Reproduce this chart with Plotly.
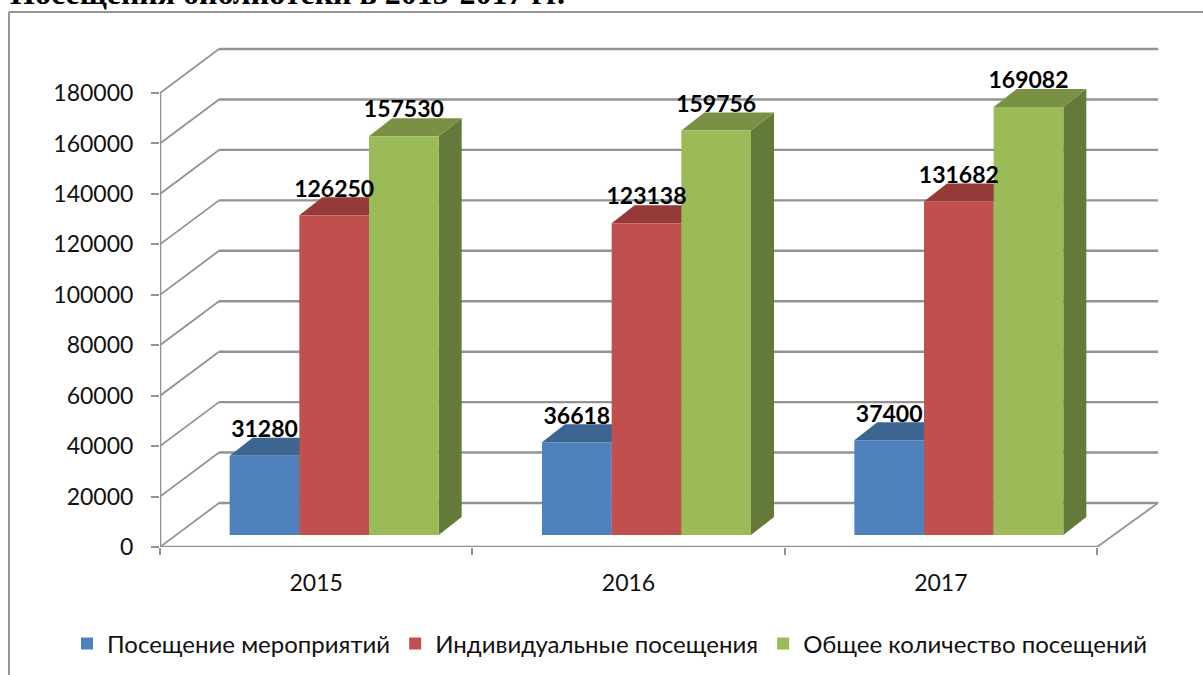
import plotly.graph_objects as go

years = [2015, 2016, 2017]
events = [31280, 36618, 37400]
individual = [126250, 123138, 131682]
total = [157530, 159756, 169082]
series_names = ["Посещение мероприятий", "Индивидуальные посещения", "Общее количество посещений"]
front_colors = ["#4F81BD", "#C0504D", "#9BBB59"]
top_colors = ["#3D6591", "#943A38", "#7A9145"]
side_colors = ["#34567C", "#7E3230", "#647A38"]
y_ticks = [0, 20000, 40000, 60000, 80000, 100000, 120000, 140000, 160000, 180000]
title_text = "Посещения библиотеки в 2015-2017 гг."
series = [events, individual, total]

# pixel geometry of the pseudo-3D box
L, R, T, B = 160, 1158, 45, 547
PX_PER_CAT = 312.33
PX_PER_VAL = 2.522 / 1000      # axis / wall scale
BAR_PX_PER_VAL = 2.532 / 1000  # scale of the columns
BAR_SHIFT_X, BAR_FLOOR_UP = 18, 12
WALL_DX, WALL_DY = 59 / PX_PER_CAT, 44 / PX_PER_VAL
BAR_W = 69.67 / PX_PER_CAT
BAR_DX, BAR_DY = 23 / PX_PER_CAT, 18 / BAR_PX_PER_VAL
GRID = "#939393"
FONT = "Lato"
TEXT = "#111111"

x0 = years[0] - 0.5
x_end = x0 + (R - L) / PX_PER_CAT
x_last = years[-1] + 0.5
y_top = (B - T) / PX_PER_VAL
bar_xrange = [x0 - BAR_SHIFT_X / PX_PER_CAT, x_end - BAR_SHIFT_X / PX_PER_CAT]
bar_yrange = [-BAR_FLOOR_UP / BAR_PX_PER_VAL, (B - BAR_FLOOR_UP - T) / BAR_PX_PER_VAL]

fig = go.Figure()

def line(xs, ys, width=2):
    fig.add_trace(go.Scatter(x=xs, y=ys, mode="lines", line=dict(color=GRID, width=width),
                             showlegend=False, hoverinfo="skip", cliponaxis=False))

# walls: gridlines on the back wall and their diagonals on the side wall
for v in y_ticks:
    line([x0, x0 + WALL_DX], [v, v + WALL_DY], 1.8)
    line([x0 + WALL_DX, x_end], [v + WALL_DY, v + WALL_DY], 2.4)
# floor and front axis lines
line([x0, x_last], [0, 0], 2.6)
line([x_last, x_end], [0, WALL_DY], 1.8)
line([x0, x0], [0, y_ticks[-1]], 2.6)

# column sides and tops, computed from the values (below the fronts)
for k, vals in enumerate(series):
    off = (k - 1) * BAR_W
    for yr, v in zip(years, vals):
        xl, xr = yr + off - BAR_W / 2, yr + off + BAR_W / 2
        fig.add_trace(go.Scatter(
            x=[xr, xr + BAR_DX, xr + BAR_DX, xr, xr], y=[0, BAR_DY, v + BAR_DY, v, 0],
            fill="toself", fillcolor=side_colors[k], mode="none",
            xaxis="x2", yaxis="y2", showlegend=False, hoverinfo="skip"))
        fig.add_trace(go.Scatter(
            x=[xl, xl + BAR_DX, xr + BAR_DX, xr, xl], y=[v, v + BAR_DY, v + BAR_DY, v, v],
            fill="toself", fillcolor=top_colors[k], mode="none",
            xaxis="x2", yaxis="y2", showlegend=False, hoverinfo="skip"))

# column fronts
for k, vals in enumerate(series):
    fig.add_trace(go.Bar(x=years, y=vals, name=series_names[k], marker=dict(color=front_colors[k], line=dict(width=0)),
                         xaxis="x3", yaxis="y3"))

# data labels
for k, vals in enumerate(series):
    off = (k - 1) * BAR_W
    fig.add_trace(go.Scatter(
        x=[yr + off for yr in years], y=[v + 24.5 / BAR_PX_PER_VAL for v in vals],
        text=[str(v) for v in vals], mode="text", textposition="middle center",
        textfont=dict(family=FONT, size=23, color="#000000", weight="bold"),
        xaxis="x3", yaxis="y3", showlegend=False, hoverinfo="skip", cliponaxis=False))

def px(x):
    return (x - L) / (R - L)

def py(y):
    return (B - y) / (B - T)

border = dict(color="#959595", width=2)
shapes = [
    dict(type="line", xref="paper", yref="paper", x0=px(9), x1=px(9), y0=py(12), y1=py(680), line=border),
    dict(type="line", xref="paper", yref="paper", x0=px(9), x1=px(1210), y0=py(12), y1=py(12), line=border),
]

hidden = dict(visible=False, fixedrange=True)
fig.update_layout(
    width=1203, height=675,
    margin=dict(l=L, r=1203 - R, t=T, b=675 - B, pad=0, autoexpand=False),
    paper_bgcolor="white", plot_bgcolor="rgba(0,0,0,0)",
    font=dict(family=FONT, size=23, color=TEXT),
    barmode="group", bargap=1 - 3 * BAR_W, bargroupgap=0,
    xaxis=dict(range=[x0, x_end], tickmode="array", tickvals=years, ticktext=[str(y) for y in years],
               ticks="", ticklen=0, showgrid=False, zeroline=False, showline=False, automargin=False,
               ticklabelstandoff=20,
               minor=dict(tickmode="array", tickvals=[x0 + i for i in range(len(years) + 1)],
                          ticks="outside", ticklen=7, tickwidth=2, tickcolor=GRID, showgrid=False)),
    yaxis=dict(range=[0, y_top], tickmode="array", tickvals=y_ticks, ticktext=[str(v) for v in y_ticks],
               ticks="outside", ticklen=8, tickwidth=2, automargin=False,
               tickcolor=GRID, showgrid=False, zeroline=False, showline=False, ticklabelstandoff=13),
    xaxis2=dict(range=bar_xrange, overlaying="x", anchor="y2", **hidden),
    yaxis2=dict(range=bar_yrange, overlaying="y", anchor="x2", **hidden),
    xaxis3=dict(range=bar_xrange, overlaying="x", anchor="y3", **hidden),
    yaxis3=dict(range=bar_yrange, overlaying="y", anchor="x3", **hidden),
    legend=dict(orientation="h", x=px(67), xanchor="left", y=py(644), yanchor="middle",
                font=dict(family=FONT, size=24, color=TEXT), bgcolor="rgba(0,0,0,0)", traceorder="normal"),
    shapes=shapes,
    annotations=[dict(text="<b>" + title_text + "</b>", xref="paper", yref="paper", x=px(9), y=py(12),
                      xanchor="left", yanchor="bottom", showarrow=False, align="left",
                      font=dict(family="Liberation Serif", size=32, color="#000000"), borderpad=0)],
)

fig.write_html("out.html", config=dict(displayModeBar=False), post_script="document.body.style.margin='0';")
